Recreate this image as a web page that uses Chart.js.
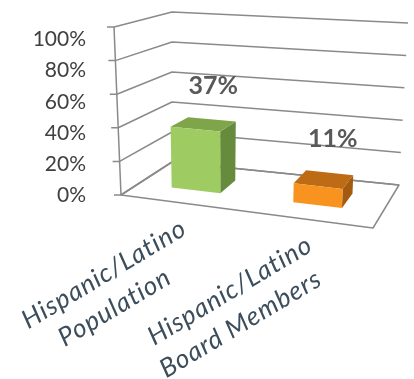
<!DOCTYPE html>
<html>
<head>
<meta charset="utf-8">
<script src="https://cdn.jsdelivr.net/npm/chart.js@4.4.1/dist/chart.umd.min.js"></script>
<style>
  html, body { margin: 0; padding: 0; background: #fff; }
  canvas { display: block; }
</style>
</head>
<body>
<canvas id="chart" width="414" height="379"></canvas>
<script>
const categories = [["Hispanic/Latino", "Population"], ["Hispanic/Latino", "Board Members"]];
const shares = [37, 11];
const yTicks = [0, 20, 40, 60, 80, 100];

const frontColors = ["#9FCC62", "#F7931E"];
const topColors = ["#7FA54B", "#BD6B14"];
const sideColors = ["#668B3C", "#A45B0F"];

// corners of the box in screen space: front plane (depth 0) and back plane (depth 1)
const front = { lb: [121, 195], rb: [373, 228], lt: [114, 27], rt: [380, 43] };
const back = { lb: [172, 162], rb: [399, 185], lt: [172, 12], rt: [408, 23] };

const lerp = (a, b, t) => [a[0] + (b[0] - a[0]) * t, a[1] + (b[1] - a[1]) * t];
function onPlane(p, u, v) {
    return lerp(lerp(p.lb, p.rb, u), lerp(p.lt, p.rt, u), v);
}
// u: across, v: height, w: depth (all 0..1)
const project = (u, v, w) => lerp(onPlane(front, u, v), onPlane(back, u, v), w);

function poly(ctx, pts, fill, stroke) {
    ctx.beginPath();
    pts.forEach((p, i) => i ? ctx.lineTo(p[0], p[1]) : ctx.moveTo(p[0], p[1]));
    ctx.closePath();
    if (fill) { ctx.fillStyle = fill; ctx.fill(); }
    if (stroke) { ctx.strokeStyle = stroke; ctx.stroke(); }
}

const box3d = {
    id: "box3d",
    beforeDatasetsDraw(chart) {
        const { ctx, chartArea: a, scales: { x, y } } = chart;
        const toU = px => (px - a.left) / (a.right - a.left);
        const toV = py => (a.bottom - py) / (a.bottom - a.top);

        ctx.save();
        ctx.lineWidth = 1.5;
        ctx.lineJoin = "round";

        // floor
        poly(ctx, [project(0, 0, 0), project(1, 0, 0), project(1, 0, 1), project(0, 0, 1)], "#fff", "#8a8a8a");

        // gridlines on side and back walls + tick marks
        ctx.strokeStyle = "#8a8a8a";
        yTicks.forEach(t => {
            const v = toV(y.getPixelForValue(t));
            const p0 = project(0, v, 0), p1 = project(0, v, 1), p2 = project(1, v, 1);
            ctx.beginPath();
            ctx.moveTo(p0[0] - 7, p0[1]);
            ctx.lineTo(p0[0], p0[1]);
            ctx.lineTo(p1[0], p1[1]);
            ctx.lineTo(p2[0], p2[1]);
            ctx.stroke();
        });
        // value axis
        const ax0 = project(0, 0, 0), ax1 = project(0, 1, 0);
        ctx.beginPath();
        ctx.moveTo(ax0[0], ax0[1]);
        ctx.lineTo(ax1[0], ax1[1]);
        ctx.stroke();

        // bars
        const w0 = 0.35, w1 = 0.7;
        const meta = chart.getDatasetMeta(0);
        meta.data.forEach((bar, i) => {
            const u0 = toU(bar.x - bar.width / 2) - 0.015, u1 = toU(bar.x + bar.width / 2) - 0.015;
            const v0 = toV(bar.base), v1 = toV(bar.y);
            poly(ctx, [project(u1, v0, w0), project(u1, v0, w1), project(u1, v1, w1), project(u1, v1, w0)], sideColors[i]);
            poly(ctx, [project(u0, v1, w0), project(u1, v1, w0), project(u1, v1, w1), project(u0, v1, w1)], topColors[i]);
            poly(ctx, [project(u0, v0, w0), project(u1, v0, w0), project(u1, v1, w0), project(u0, v1, w0)], frontColors[i]);
        });

        // value labels
        ctx.fillStyle = "#595959";
        ctx.font = "bold 25px Lato";
        ctx.textAlign = "center";
        ctx.textBaseline = "middle";
        meta.data.forEach((bar, i) => {
            const p = project(toU(bar.x), toV(bar.y) + 0.22, 0.65);
            ctx.fillText(shares[i] + "%", p[0], p[1]);
        });

        // category labels, slanted
        ctx.fillStyle = "#3C4D5C";
        ctx.font = "italic 26px Lato";
        ctx.letterSpacing = "1px";
        categories.forEach((lines, i) => {
            const p = project(toU(x.getPixelForValue(i)), 0, 0);
            ctx.save();
            ctx.translate(p[0] - 80, p[1] + 71);
            ctx.rotate(-31 * Math.PI / 180);
            lines.forEach((line, j) => ctx.fillText(line, j * -8, j * 34));
            ctx.restore();
        });

        ctx.restore();
        return false;
    }
};

new Chart(document.getElementById("chart"), {
    type: "bar",
    data: {
        labels: categories,
        datasets: [{
            data: shares,
            backgroundColor: frontColors,
            categoryPercentage: 1,
            barPercentage: 0.4
        }]
    },
    options: {
        responsive: false,
        animation: false,
        devicePixelRatio: 1,
        layout: { padding: { top: 27, right: 41, bottom: 184, left: 0 } },
        plugins: { legend: { display: false }, tooltip: { enabled: false } },
        scales: {
            x: { display: false },
            y: {
                min: 0,
                max: 100,
                afterFit: s => { s.width = 121; },
                grid: { display: false },
                border: { display: false },
                ticks: {
                    stepSize: 20,
                    padding: 27,
                    color: "#404040",
                    font: { family: "Lato", size: 21 },
                    callback: v => v + "%"
                }
            }
        }
    },
    plugins: [box3d]
});
</script>
</body>
</html>
